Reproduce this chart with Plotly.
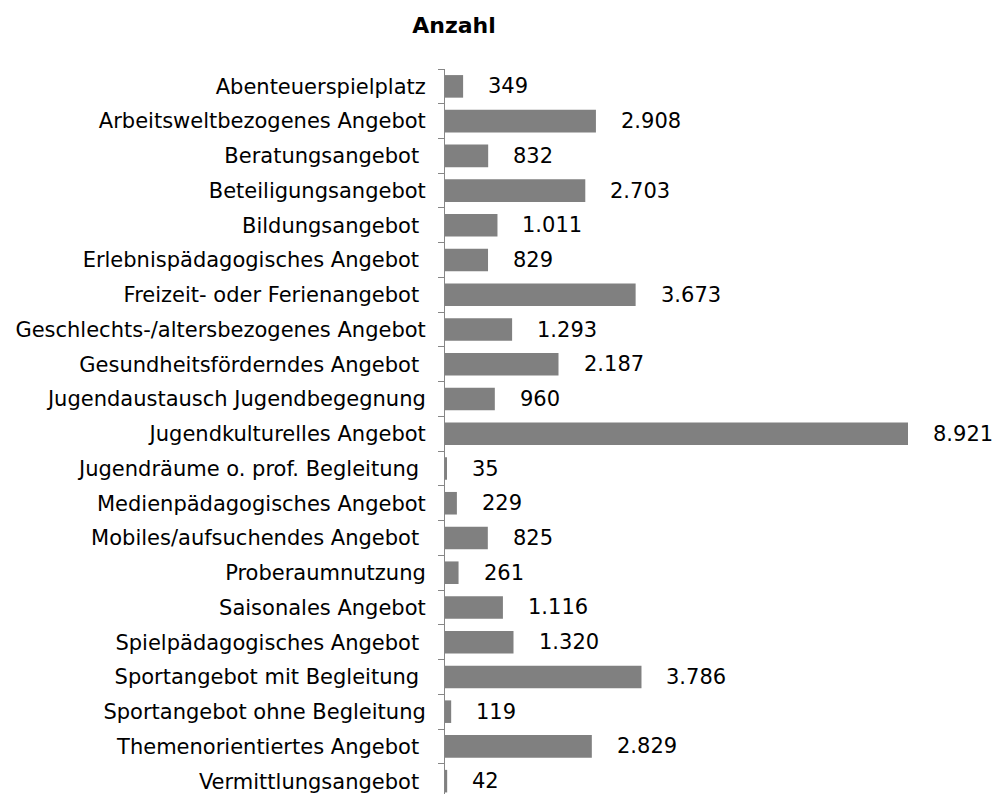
import plotly.graph_objects as go

# Angebotsarten (top to bottom) and their counts
categories = [
    "Abenteuerspielplatz",
    "Arbeitsweltbezogenes Angebot",
    "Beratungsangebot\u00a0",
    "Beteiligungsangebot",
    "Bildungsangebot\u00a0",
    "Erlebnispädagogisches Angebot\u00a0",
    "Freizeit- oder Ferienangebot\u00a0",
    "Geschlechts-/altersbezogenes Angebot",
    "Gesundheitsförderndes Angebot\u00a0",
    "Jugendaustausch Jugendbegegnung",
    "Jugendkulturelles Angebot",
    "Jugendräume o. prof. Begleitung\u00a0",
    "Medienpädagogisches Angebot",
    "Mobiles/aufsuchendes Angebot\u00a0",
    "Proberaumnutzung",
    "Saisonales Angebot",
    "Spielpädagogisches Angebot\u00a0",
    "Sportangebot mit Begleitung\u00a0",
    "Sportangebot ohne Begleitung",
    "Themenorientiertes Angebot\u00a0",
    "Vermittlungsangebot\u00a0",
]
values = [349, 2908, 832, 2703, 1011, 829, 3673, 1293, 2187, 960, 8921,
          35, 229, 825, 261, 1116, 1320, 3786, 119, 2829, 42]


def de_format(n):
    return f"{n:,}".replace(",", ".")


FONT = "DejaVu Sans, Verdana, sans-serif"
SIZE = 21

fig = go.Figure(
    go.Bar(
        x=values,
        y=categories,
        orientation="h",
        marker=dict(color="#808080", line=dict(width=0)),
        hoverinfo="x+y",
    )
)

# value labels right of each bar
for cat, v in zip(categories, values):
    fig.add_annotation(
        x=v, y=cat, xref="x", yref="y",
        text=de_format(v), showarrow=False,
        xanchor="left", yanchor="middle", xshift=23,
        font=dict(family=FONT, size=SIZE, color="#000000"),
    )

fig.update_layout(
    width=995,
    height=794,
    margin=dict(l=445, r=87, t=69, b=0),
    paper_bgcolor="white",
    plot_bgcolor="white",
    bargap=0.35,
    showlegend=False,
    font=dict(family=FONT, size=SIZE, color="#000000"),
    title=dict(
        text="<b>Anzahl</b>",
        x=454 / 995, xanchor="center", xref="container",
        y=1 - 25 / 794, yanchor="middle", yref="container",
        font=dict(family=FONT, size=22, color="#000000"),
    ),
    xaxis=dict(
        range=[0, 8921],
        visible=False,
        showgrid=False,
        zeroline=False,
    ),
    yaxis=dict(
        type="category",
        categoryorder="array",
        categoryarray=categories,
        range=[20.37, -0.5],
        showline=True,
        linecolor="#868686",
        linewidth=1,
        ticks="outside",
        tickson="boundaries",
        ticklen=6,
        tickcolor="#868686",
        ticklabelstandoff=14,
        showgrid=False,
        zeroline=False,
        tickfont=dict(family=FONT, size=SIZE, color="#000000"),
    ),
)

fig.write_html("out.html")
